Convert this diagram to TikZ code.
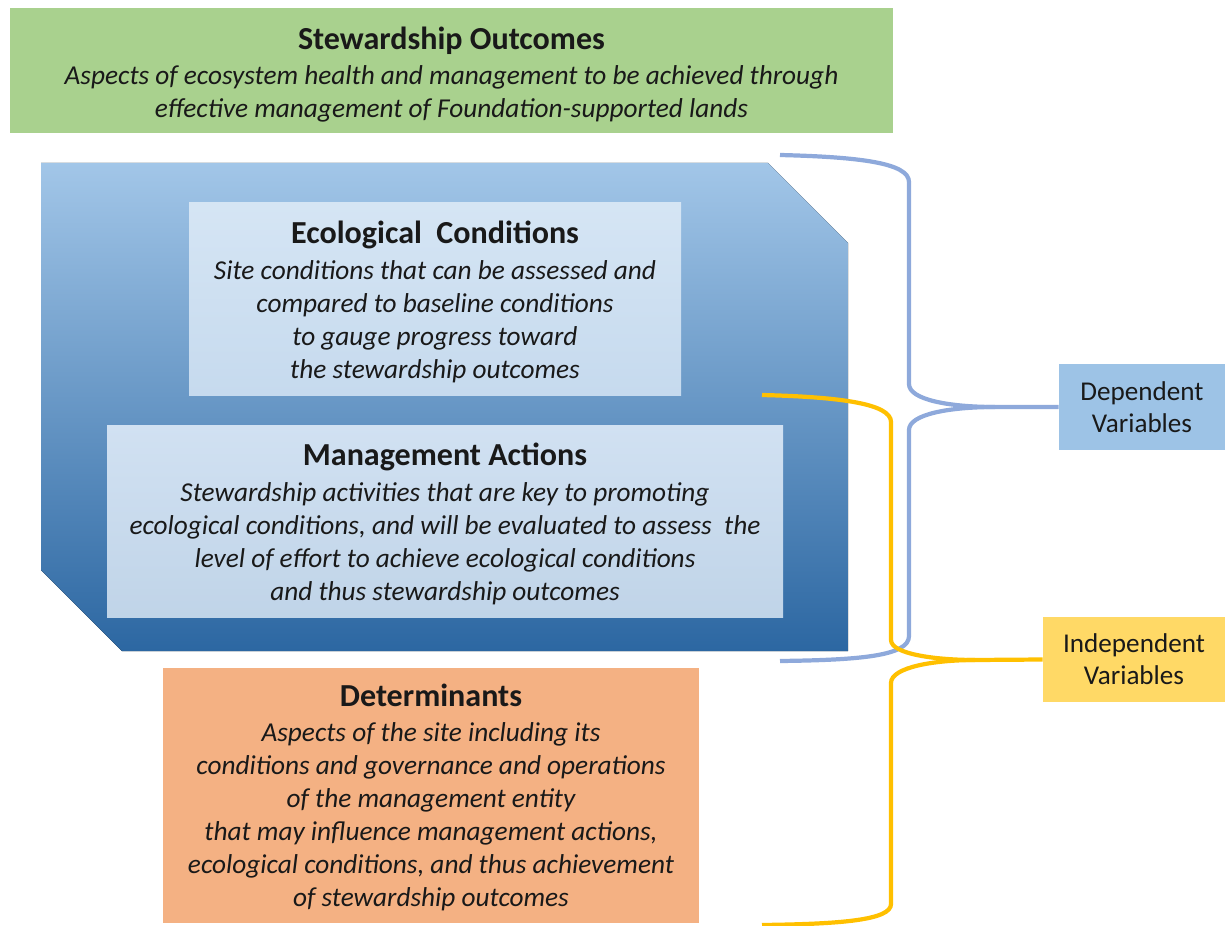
\documentclass[tikz,border=0pt]{standalone}
\usepackage{fontspec}
\setmainfont{Carlito}
\newcommand\ttlfnt{\bfseries\fontsize{22.8}{24}\selectfont}
\begin{document}
\begin{tikzpicture}[x=0.025cm,y=-0.025cm,
  box/.style={rectangle,inner sep=0pt},
  txt/.style={inner sep=0pt,align=center,text=black!90,
    font=\fontsize{19.4}{23.5}\selectfont},
  lbl/.style={rectangle,inner sep=0pt,align=center,text=black!90,
    font=\fontsize{19.3}{22.8}\selectfont},
  bluebrace/.style={draw=braceblue,line width=3pt},
  yelbrace/.style={draw=braceyel,line width=3pt}]
\definecolor{sogreen}{HTML}{A9D18E}
\definecolor{bluetop}{HTML}{A2C6E8}
\definecolor{bluemid}{HTML}{5B9BD5}
\definecolor{bluebot}{HTML}{2C67A2}
\definecolor{depblue}{HTML}{9DC3E6}
\definecolor{indyel}{HTML}{FFD966}
\definecolor{detorange}{HTML}{F4B183}
\definecolor{braceblue}{HTML}{8EA9DB}
\definecolor{braceyel}{HTML}{FFC000}
\definecolor{ecotop}{HTML}{D5E5F4}
\definecolor{ecobot}{HTML}{C6DAEE}
\definecolor{mgtop}{HTML}{D1E1F2}
\definecolor{mgbot}{HTML}{C0D4E8}
\useasboundingbox (0,0) rectangle (1225,926);
% outer blue shape
\fill[top color=bluetop,middle color=bluemid,bottom color=bluebot]
  (41,163) -- (768,163) -- (848,243) -- (848,651) -- (122,651) -- (41,570) -- cycle;
% stewardship outcomes
\node[box,fill=sogreen,minimum width=883*0.025cm,minimum height=125*0.025cm] (so) at (451.5,70.5) {};
\node[txt] (sot) at ([yshift=-4*0.025cm]so.center)
  {{\ttlfnt Stewardship Outcomes}\\[1.5pt]
   \itshape Aspects of ecosystem health and management to be achieved through\\
   \itshape effective management of Foundation-supported lands};
% ecological conditions
\node[box,top color=ecotop,bottom color=ecobot,minimum width=492*0.025cm,minimum height=192*0.025cm] (eco) at (435,299) {};
\node[txt] (ecot) at ([yshift=-3*0.025cm]eco.center)
  {{\ttlfnt Ecological\ \ Conditions}\\[1.5pt]
   \itshape Site conditions that can be assessed and\\
   \itshape compared to baseline conditions\\
   \itshape to gauge progress toward\\
   \itshape the stewardship outcomes};
% management actions
\node[box,top color=mgtop,bottom color=mgbot,minimum width=676*0.025cm,minimum height=192*0.025cm] (mgmt) at (445,521) {};
\node[txt] (mgmtt) at ([yshift=-3*0.025cm]mgmt.center)
  {{\ttlfnt Management Actions}\\[1.5pt]
   \itshape Stewardship activities that are key to promoting\\
   \itshape ecological conditions, and will be evaluated to assess\ \ the\\
   \itshape level of effort to achieve ecological conditions\\
   \itshape and thus stewardship outcomes};
% determinants
\node[box,fill=detorange,minimum width=536*0.025cm,minimum height=255*0.025cm] (det) at (431,795.5) {};
\node[txt] (dett) at ([yshift=-2*0.025cm]det.center)
  {{\ttlfnt Determinants}\\[1.5pt]
   \itshape Aspects of the site including its\\
   \itshape conditions and governance and operations\\
   \itshape of the management entity\\
   \itshape that may influence management actions,\\
   \itshape ecological conditions, and thus achievement\\
   \itshape of stewardship outcomes};
% variable labels
\node[lbl,fill=depblue,minimum width=166*0.025cm,minimum height=86*0.025cm] (dep) at (1142,407) {Dependent\\Variables};
\node[lbl,fill=indyel,minimum width=182*0.025cm,minimum height=85*0.025cm] (ind) at (1134,659.5) {Independent\\Variables};
% brace end points
\coordinate (bt) at (780,155);
\coordinate (bb) at (780,661);
\coordinate (yt) at (762,395);
\coordinate (yb) at (762,925);
% blue brace (dependent)
\draw[bluebrace]
  (bt) .. controls (860,157) and (909,163) .. (909,182)
  -- (909,384) .. controls (909,400) and (950,407) .. (995,407)
  -- (dep.west);
\draw[bluebrace]
  (995,407) .. controls (950,407) and (909,414) .. (909,430)
  -- (909,636) .. controls (909,656) and (860,660) .. (bb);
% yellow brace (independent)
\draw[yelbrace]
  (yt) .. controls (842,397) and (891,404) .. (891,422)
  -- (891,640) .. controls (891,654) and (935,660) .. (975,660)
  -- (ind.west);
\draw[yelbrace]
  (975,660) .. controls (935,660) and (891,667) .. (891,683)
  -- (891,904) .. controls (891,920) and (842,924) .. (yb);
\end{tikzpicture}
\end{document}
